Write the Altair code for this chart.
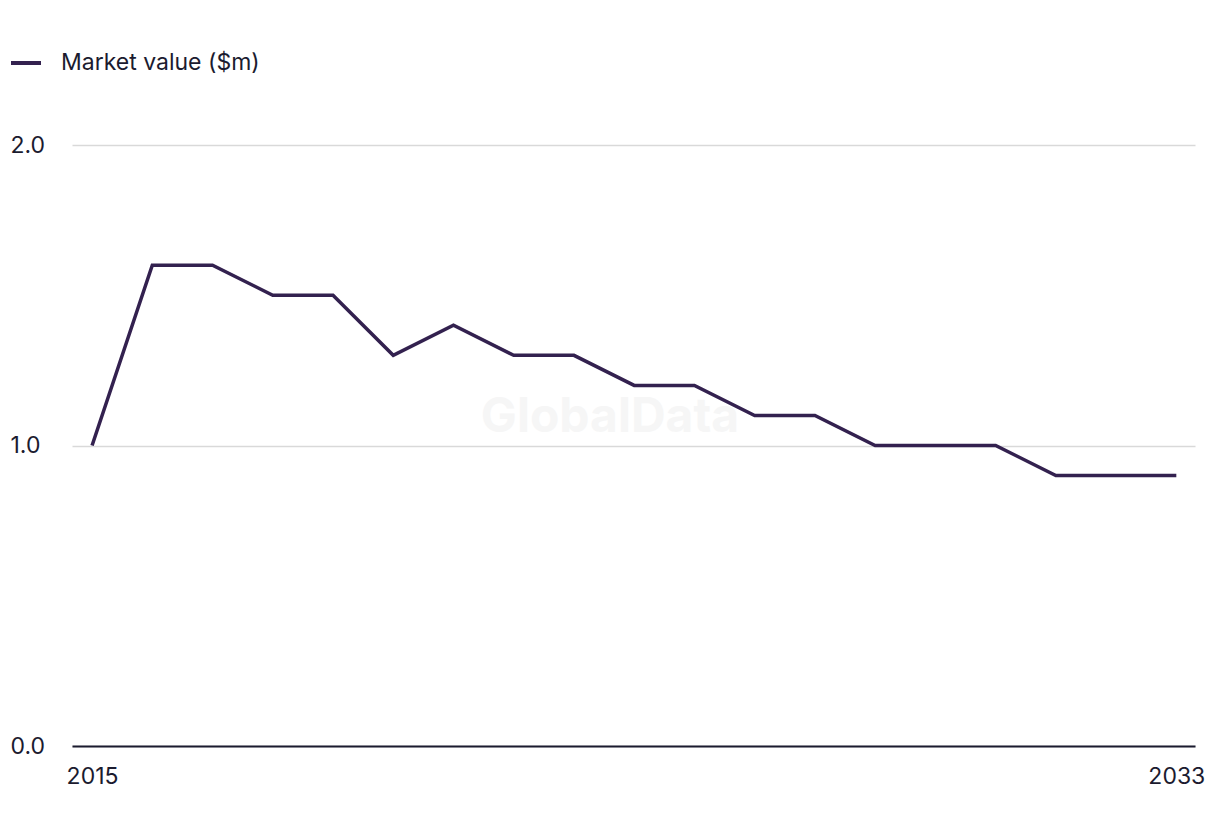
import altair as alt
import pandas as pd

years = list(range(2015, 2034))
values = [1.0, 1.6, 1.6, 1.5, 1.5, 1.3, 1.4, 1.3, 1.3, 1.2, 1.2, 1.1, 1.1, 1.0, 1.0, 1.0, 0.9, 0.9, 0.9]
series_name = "Market value ($m)"

df = pd.DataFrame({"year": years, "value": values, "series": [series_name] * len(years)})

FONT = "Inter"
TEXT = "#1b1b2f"
LINE = "#33214f"
FS = 23

x = alt.X("year:Q",
          scale=alt.Scale(domain=[2014.667, 2033.31], nice=False, zero=False),
          axis=alt.Axis(values=[2015, 2033], format="d", title=None, grid=False,
                        ticks=False, tickSize=0, domain=True, domainColor=TEXT, domainWidth=2,
                        labelPadding=19, labelFontSize=FS, labelColor=TEXT, labelFont=FONT,
                        labelOverlap=False))
y = alt.Y("value:Q",
          scale=alt.Scale(domain=[0, 2], nice=False),
          axis=alt.Axis(values=[0, 1, 2], format=".1f", title=None, grid=True,
                        gridColor="#d9d9d9", gridWidth=1.5, domain=False, ticks=False,
                        tickSize=0, labelAlign="left", labelPadding=62, labelFontSize=FS,
                        labelColor=TEXT, labelFont=FONT))

line = alt.Chart(df).mark_line(strokeWidth=3.5, strokeJoin="miter").encode(
    x=x, y=y,
    color=alt.Color("series:N", scale=alt.Scale(range=[LINE]),
                    legend=alt.Legend(title=None, orient="none", legendX=-63, legendY=-99,
                                      symbolType="stroke", symbolSize=900,
                                      symbolStrokeWidth=4, labelFontSize=FS, labelLimit=500,
                                      labelColor=TEXT, labelFont=FONT, labelOffset=18))
)

wm = alt.Chart(pd.DataFrame({"t": ["GlobalData"]})).mark_text(
    font=FONT, fontSize=48, fontWeight="bold", color="#f6f6f6"
).encode(text="t:N", x=alt.value(538), y=alt.value(273))

chart = (wm + line).properties(
    width=1123, height=601,
    autosize=alt.AutoSizeParams(type="none"),
    padding={"left": 72, "top": 145, "right": 25, "bottom": 90},
).configure_view(stroke=None)

chart.save("out.html", embed_options={"renderer": "svg", "actions": False})
